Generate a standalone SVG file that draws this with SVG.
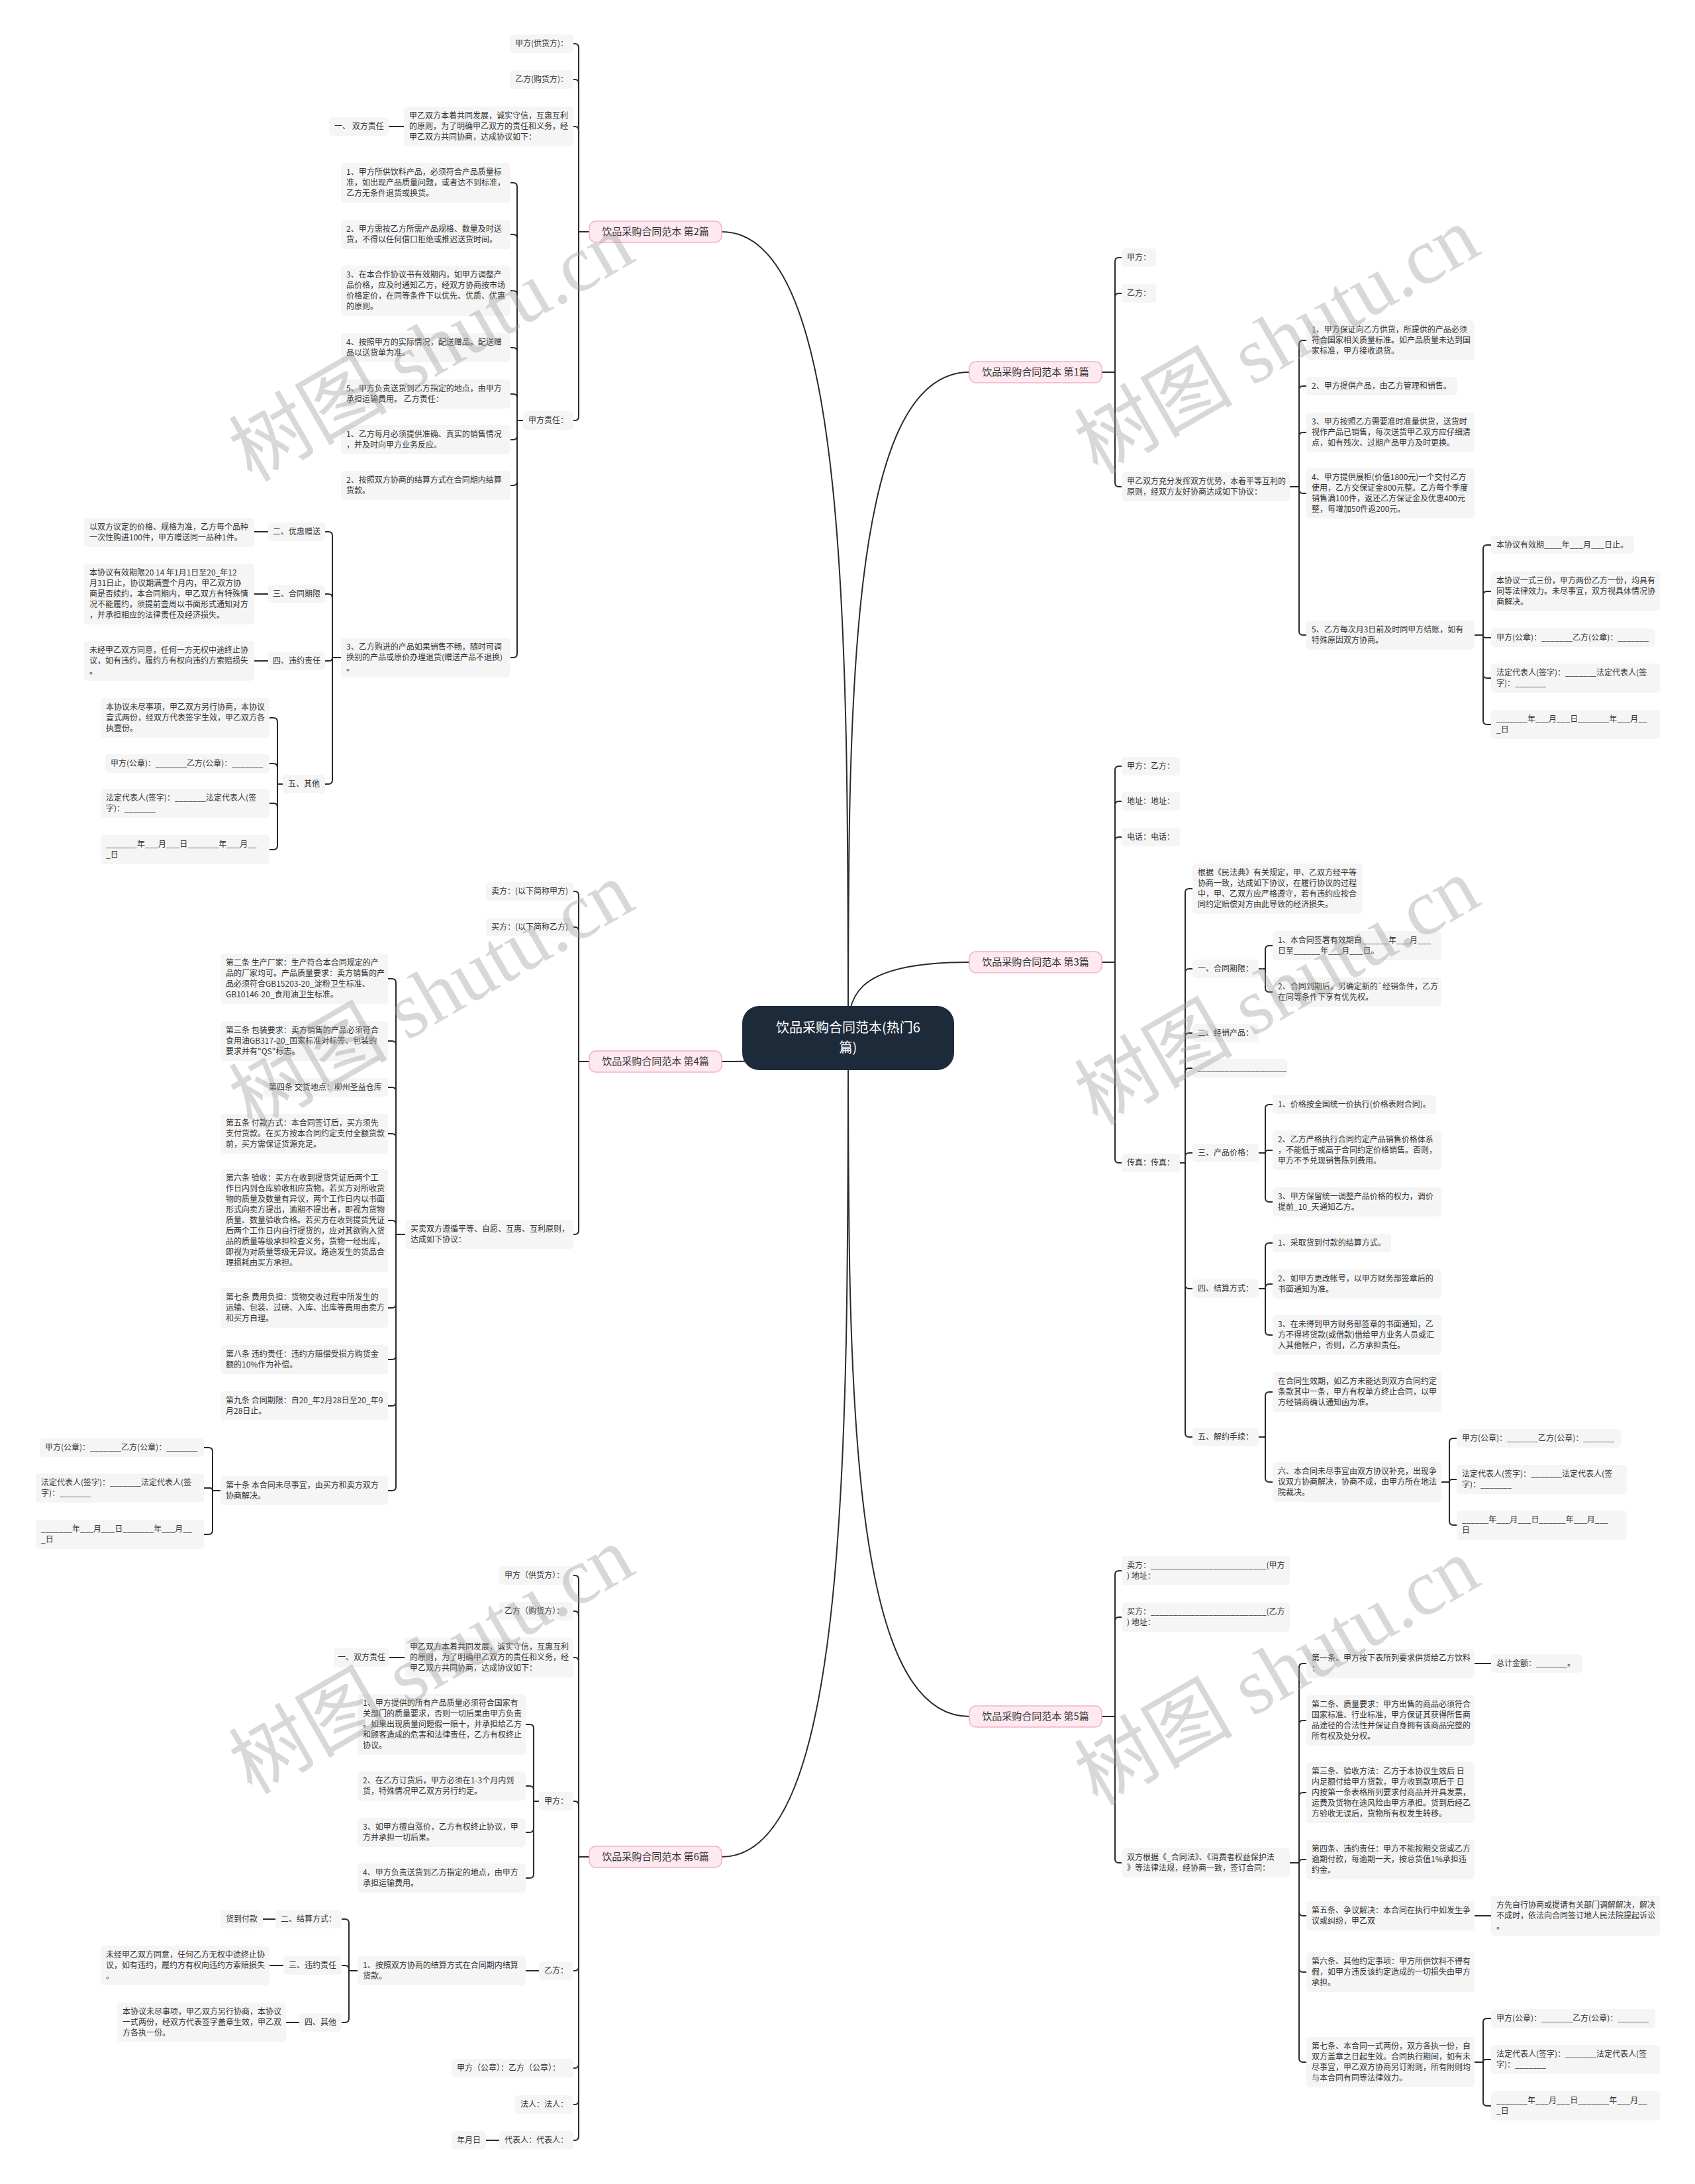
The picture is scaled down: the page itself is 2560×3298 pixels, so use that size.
<svg xmlns="http://www.w3.org/2000/svg" width="2560" height="3298" viewBox="0 0 2560 3298">
<style>
.n rect{fill:#f5f5f5}
.n text{font-family:"Noto Sans CJK SC","Noto Sans",sans-serif;font-size:12px;fill:#333}
.ln path{fill:none;stroke:#2b2b2b;stroke-width:2}
.mc path{fill:none;stroke:#2b2b2b;stroke-width:2}
.b rect{fill:#fde9ef;stroke:#f2b3c7;stroke-width:1.5}
.b text{font-family:"Noto Sans CJK SC","Noto Sans",sans-serif;font-size:15px;fill:#333;text-anchor:middle}
.wm{font-family:"Liberation Serif","Noto Sans CJK SC",serif;font-size:120px;fill:#999;fill-opacity:0.38;text-anchor:middle}
</style>
<rect x="0" y="0" width="2560" height="3298" fill="#ffffff"/>

<g id="connectors">
<g class="mc">
<path d="M1281 1567 C1281 958 1281 350 1090 350"/>
<path d="M1281 1567 C1281 1585 1281 1603 1090 1603"/>
<path d="M1281 1567 C1281 2185 1281 2804 1090 2804"/>
<path d="M1281 1567 C1281 1064 1281 562 1464 562"/>
<path d="M1281 1567 C1281 1510 1281 1453 1464 1453"/>
<path d="M1281 1567 C1281 2080 1281 2592 1464 2592"/>
</g>
<g class="ln">
<!-- branch 2 -->
<path d="M890 350 H874"/>
<path d="M874 350 V72 Q874 66 868 66 H866"/>
<path d="M874 350 V126 Q874 120 868 120 H866"/>
<path d="M874 350 V197 Q874 191 868 191 H866"/>
<path d="M874 350 V629 Q874 635 868 635 H866"/>
<path d="M610 191 H587"/>
<path d="M790 635 H781"/>
<path d="M781 635 V282 Q781 276 775 276 H771"/>
<path d="M781 635 V360 Q781 354 775 354 H771"/>
<path d="M781 635 V445 Q781 439 775 439 H771"/>
<path d="M781 635 V531 Q781 525 775 525 H771"/>
<path d="M781 635 V601 Q781 595 775 595 H771"/>
<path d="M781 635 V658 Q781 664 775 664 H771"/>
<path d="M781 635 V727 Q781 733 775 733 H771"/>
<path d="M781 635 V987 Q781 993 775 993 H771"/>
<path d="M515 993 H502"/>
<path d="M502 993 V809 Q502 803 496 803 H491"/>
<path d="M502 993 V903 Q502 897 496 897 H491"/>
<path d="M502 993 Q502 998 497 998 H491"/>
<path d="M502 993 V1178 Q502 1184 496 1184 H491"/>
<path d="M405 803 H384"/>
<path d="M405 897 H384"/>
<path d="M405 998 H384"/>
<path d="M427 1184 H419"/>
<path d="M419 1184 V1090 Q419 1084 413 1084 H407"/>
<path d="M419 1184 V1159 Q419 1153 413 1153 H407"/>
<path d="M419 1184 V1219 Q419 1213 413 1213 H407"/>
<path d="M419 1184 V1277 Q419 1283 413 1283 H407"/>
<!-- branch 4 -->
<path d="M890 1603 H874"/>
<path d="M874 1603 V1352 Q874 1346 868 1346 H866"/>
<path d="M874 1603 V1406 Q874 1400 868 1400 H866"/>
<path d="M874 1603 V1858 Q874 1864 868 1864 H866"/>
<path d="M612 1864 H598"/>
<path d="M598 1864 V1484 Q598 1478 592 1478 H586"/>
<path d="M598 1864 V1578 Q598 1572 592 1572 H586"/>
<path d="M598 1864 V1648 Q598 1642 592 1642 H586"/>
<path d="M598 1864 V1718 Q598 1712 592 1712 H586"/>
<path d="M598 1864 V1849 Q598 1843 592 1843 H586"/>
<path d="M598 1864 V1969 Q598 1975 592 1975 H586"/>
<path d="M598 1864 V2047 Q598 2053 592 2053 H586"/>
<path d="M598 1864 V2117 Q598 2123 592 2123 H586"/>
<path d="M598 1864 V2245 Q598 2251 592 2251 H586"/>
<path d="M333 2251 H321"/>
<path d="M321 2251 V2192 Q321 2186 315 2186 H308"/>
<path d="M321 2251 Q321 2247 317 2247 H308"/>
<path d="M321 2251 V2311 Q321 2317 315 2317 H308"/>
<!-- branch 6 -->
<path d="M890 2804 H874"/>
<path d="M874 2804 V2385 Q874 2379 868 2379 H866"/>
<path d="M874 2804 V2439 Q874 2433 868 2433 H866"/>
<path d="M874 2804 V2509 Q874 2503 868 2503 H866"/>
<path d="M874 2804 V2726 Q874 2720 868 2720 H866"/>
<path d="M874 2804 V2970 Q874 2976 868 2976 H866"/>
<path d="M874 2804 V3117 Q874 3123 868 3123 H866"/>
<path d="M874 2804 V3172 Q874 3178 868 3178 H866"/>
<path d="M874 2804 V3226 Q874 3232 868 3232 H866"/>
<path d="M611 2503 H588"/>
<path d="M814 2720 H806"/>
<path d="M806 2720 V2610 Q806 2604 800 2604 H794"/>
<path d="M806 2720 V2703 Q806 2697 800 2697 H794"/>
<path d="M806 2720 V2761 Q806 2767 800 2767 H794"/>
<path d="M806 2720 V2830 Q806 2836 800 2836 H794"/>
<path d="M814 2976 H794"/>
<path d="M540 2976 H527"/>
<path d="M527 2976 V2904 Q527 2898 521 2898 H516"/>
<path d="M527 2976 V2974 Q527 2968 521 2968 H516"/>
<path d="M527 2976 V3048 Q527 3054 521 3054 H516"/>
<path d="M416 2898 H397"/>
<path d="M428 2968 H407"/>
<path d="M452 3054 H432"/>
<path d="M754 3232 H734"/>
<!-- branch 1 -->
<path d="M1664 562 H1684"/>
<path d="M1684 562 V395 Q1684 389 1690 389 H1694"/>
<path d="M1684 562 V449 Q1684 443 1690 443 H1694"/>
<path d="M1684 562 V729 Q1684 735 1690 735 H1694"/>
<path d="M1948 735 H1962"/>
<path d="M1962 735 V520 Q1962 514 1968 514 H1973"/>
<path d="M1962 735 V589 Q1962 583 1968 583 H1973"/>
<path d="M1962 735 V659 Q1962 653 1968 653 H1973"/>
<path d="M1962 735 V739 Q1962 745 1968 745 H1973"/>
<path d="M1962 735 V953 Q1962 959 1968 959 H1973"/>
<path d="M2227 959 H2240"/>
<path d="M2240 959 V829 Q2240 823 2246 823 H2252"/>
<path d="M2240 959 V899 Q2240 893 2246 893 H2252"/>
<path d="M2240 959 Q2240 963 2244 963 H2252"/>
<path d="M2240 959 V1018 Q2240 1024 2246 1024 H2252"/>
<path d="M2240 959 V1088 Q2240 1094 2246 1094 H2252"/>
<!-- branch 3 -->
<path d="M1664 1453 H1684"/>
<path d="M1684 1453 V1163 Q1684 1157 1690 1157 H1694"/>
<path d="M1684 1453 V1216 Q1684 1210 1690 1210 H1694"/>
<path d="M1684 1453 V1270 Q1684 1264 1690 1264 H1694"/>
<path d="M1684 1453 V1750 Q1684 1756 1690 1756 H1694"/>
<path d="M1782 1756 H1790"/>
<path d="M1790 1756 V1348 Q1790 1342 1796 1342 H1801"/>
<path d="M1790 1756 V1469 Q1790 1463 1796 1463 H1801"/>
<path d="M1790 1756 V1566 Q1790 1560 1796 1560 H1801"/>
<path d="M1790 1756 V1619 Q1790 1613 1796 1613 H1801"/>
<path d="M1790 1756 V1747 Q1790 1741 1796 1741 H1801"/>
<path d="M1790 1756 V1940 Q1790 1946 1796 1946 H1801"/>
<path d="M1790 1756 V2164 Q1790 2170 1796 2170 H1801"/>
<path d="M1901 1463 H1911"/>
<path d="M1911 1463 V1434 Q1911 1428 1917 1428 H1922"/>
<path d="M1911 1463 V1492 Q1911 1498 1917 1498 H1922"/>
<path d="M1901 1741 H1911"/>
<path d="M1911 1741 V1674 Q1911 1668 1917 1668 H1922"/>
<path d="M1911 1741 Q1911 1737 1915 1737 H1922"/>
<path d="M1911 1741 V1809 Q1911 1815 1917 1815 H1922"/>
<path d="M1901 1946 H1911"/>
<path d="M1911 1946 V1883 Q1911 1877 1917 1877 H1922"/>
<path d="M1911 1946 V1945 Q1911 1939 1917 1939 H1922"/>
<path d="M1911 1946 V2010 Q1911 2016 1917 2016 H1922"/>
<path d="M1901 2170 H1911"/>
<path d="M1911 2170 V2108 Q1911 2102 1917 2102 H1922"/>
<path d="M1911 2170 V2232 Q1911 2238 1917 2238 H1922"/>
<path d="M2177 2238 H2189"/>
<path d="M2189 2238 V2178 Q2189 2172 2195 2172 H2200"/>
<path d="M2189 2238 Q2189 2234 2193 2234 H2200"/>
<path d="M2189 2238 V2297 Q2189 2303 2195 2303 H2200"/>
<!-- branch 5 -->
<path d="M1664 2592 H1684"/>
<path d="M1684 2592 V2378 Q1684 2372 1690 2372 H1694"/>
<path d="M1684 2592 V2448 Q1684 2442 1690 2442 H1694"/>
<path d="M1684 2592 V2807 Q1684 2813 1690 2813 H1694"/>
<path d="M1948 2813 H1962"/>
<path d="M1962 2813 V2518 Q1962 2512 1968 2512 H1973"/>
<path d="M1962 2813 V2604 Q1962 2598 1968 2598 H1973"/>
<path d="M1962 2813 V2713 Q1962 2707 1968 2707 H1973"/>
<path d="M1962 2813 Q1962 2808 1967 2808 H1973"/>
<path d="M1962 2813 V2887 Q1962 2893 1968 2893 H1973"/>
<path d="M1962 2813 V2972 Q1962 2978 1968 2978 H1973"/>
<path d="M1962 2813 V3108 Q1962 3114 1968 3114 H1973"/>
<path d="M2227 2512 H2252"/>
<path d="M2227 2893 H2252"/>
<path d="M2227 3114 H2240"/>
<path d="M2240 3114 V3054 Q2240 3048 2246 3048 H2252"/>
<path d="M2240 3114 Q2240 3110 2244 3110 H2252"/>
<path d="M2240 3114 V3174 Q2240 3180 2246 3180 H2252"/>
</g>
</g>

<g id="root"><rect x="1121" y="1519" width="320" height="97" rx="26" fill="#1d2a3a"/><text x="1281" y="1559" font-family="Noto Sans CJK SC, Noto Sans, sans-serif" font-size="20" fill="#ffffff" text-anchor="middle">饮品采购合同范本(热门6<tspan x="1281" dy="30">篇)</tspan></text></g>

<g id="b2" class="b"><rect x="890" y="334" width="200" height="32" rx="10"/><text x="990" y="355">饮品采购合同范本 第2篇</text></g>
<g id="b4" class="b"><rect x="890" y="1587" width="200" height="32" rx="10"/><text x="990" y="1608">饮品采购合同范本 第4篇</text></g>
<g id="b6" class="b"><rect x="890" y="2788" width="200" height="32" rx="10"/><text x="990" y="2809">饮品采购合同范本 第6篇</text></g>
<g id="b1" class="b"><rect x="1464" y="546" width="200" height="32" rx="10"/><text x="1564" y="567">饮品采购合同范本 第1篇</text></g>
<g id="b3" class="b"><rect x="1464" y="1437" width="200" height="32" rx="10"/><text x="1564" y="1458">饮品采购合同范本 第3篇</text></g>
<g id="b5" class="b"><rect x="1464" y="2576" width="200" height="32" rx="10"/><text x="1564" y="2597">饮品采购合同范本 第5篇</text></g>

<!-- Branch 2 nodes -->
<g id="n2-1" class="n"><rect x="770" y="52" width="96" height="28" rx="5"/><text x="778" y="70">甲方(供货方)：</text></g>
<g id="n2-2" class="n"><rect x="770" y="106" width="96" height="28" rx="5"/><text x="778" y="124">乙方(购货方)：</text></g>
<g id="n2-3" class="n"><rect x="610" y="161" width="256" height="60" rx="5"/><text x="618" y="179">甲乙双方本着共同发展，诚实守信，互惠互利<tspan x="618" dy="16">的原则，为了明确甲乙双方的责任和义务，经</tspan><tspan x="618" dy="16">甲乙双方共同协商，达成协议如下：</tspan></text></g>
<g id="n2-4" class="n"><rect x="497" y="177" width="90" height="28" rx="5"/><text x="505" y="195">一、 双方责任</text></g>
<g id="n2-5" class="n"><rect x="790" y="621" width="76" height="28" rx="5"/><text x="798" y="639">甲方责任：</text></g>
<g id="n2-e1" class="n"><rect x="515" y="246" width="256" height="60" rx="5"/><text x="523" y="264">1、甲方所供饮料产品，必须符合产品质量标<tspan x="523" dy="16">准，如出现产品质量问题，或者达不到标准，</tspan><tspan x="523" dy="16">乙方无条件退货或换货。</tspan></text></g>
<g id="n2-e2" class="n"><rect x="515" y="332" width="256" height="44" rx="5"/><text x="523" y="350">2、甲方需按乙方所需产品规格、数量及时送<tspan x="523" dy="16">货，不得以任何借口拒绝或推迟送货时间。</tspan></text></g>
<g id="n2-e3" class="n"><rect x="515" y="401" width="256" height="76" rx="5"/><text x="523" y="419">3、在本合作协议书有效期内，如甲方调整产<tspan x="523" dy="16">品价格，应及时通知乙方，经双方协商按市场</tspan><tspan x="523" dy="16">价格定价，在同等条件下以优先、优质、优惠</tspan><tspan x="523" dy="16">的原则。</tspan></text></g>
<g id="n2-e4" class="n"><rect x="515" y="503" width="256" height="44" rx="5"/><text x="523" y="521">4、按照甲方的实际情况，配送赠品。配送赠<tspan x="523" dy="16">品以送货单为准。</tspan></text></g>
<g id="n2-e5" class="n"><rect x="515" y="573" width="256" height="44" rx="5"/><text x="523" y="591">5、甲方负责送货到乙方指定的地点，由甲方<tspan x="523" dy="16">承担运输费用。 乙方责任：</tspan></text></g>
<g id="n2-e6" class="n"><rect x="515" y="642" width="256" height="44" rx="5"/><text x="523" y="660">1、乙方每月必须提供准确、真实的销售情况<tspan x="523" dy="16">，并及时向甲方业务反应。</tspan></text></g>
<g id="n2-e7" class="n"><rect x="515" y="711" width="256" height="44" rx="5"/><text x="523" y="729">2、按照双方协商的结算方式在合同期内结算<tspan x="523" dy="16">货款。</tspan></text></g>
<g id="n2-e8" class="n"><rect x="515" y="963" width="256" height="60" rx="5"/><text x="523" y="981">3、乙方购进的产品如果销售不畅，随时可调<tspan x="523" dy="16">换别的产品或原价办理退货(赠送产品不退换)</tspan><tspan x="523" dy="16">。</tspan></text></g>
<g id="n2-f1" class="n"><rect x="405" y="789" width="86" height="28" rx="5"/><text x="412" y="807">二、优惠赠送</text></g>
<g id="n2-g1" class="n"><rect x="127" y="782" width="257" height="44" rx="5"/><text x="135" y="800">以双方议定的价格、规格为准，乙方每个品种<tspan x="135" dy="16">一次性购进100件，甲方赠送同一品种1件。</tspan></text></g>
<g id="n2-f2" class="n"><rect x="405" y="883" width="86" height="28" rx="5"/><text x="412" y="901">三、合同期限</text></g>
<g id="n2-g2" class="n"><rect x="127" y="851" width="257" height="92" rx="5"/><text x="135" y="869">本协议有效期限20 14 年1月1日至20_年12<tspan x="135" dy="16">月31日止，协议期满壹个月内，甲乙双方协</tspan><tspan x="135" dy="16">商是否续约，本合同期内，甲乙双方有特殊情</tspan><tspan x="135" dy="16">况不能履约，须提前壹周以书面形式通知对方</tspan><tspan x="135" dy="16">，并承担相应的法律责任及经济损失。</tspan></text></g>
<g id="n2-f3" class="n"><rect x="405" y="984" width="86" height="28" rx="5"/><text x="412" y="1002">四、违约责任</text></g>
<g id="n2-g3" class="n"><rect x="127" y="968" width="257" height="60" rx="5"/><text x="135" y="986">未经甲乙双方同意，任何一方无权中途终止协<tspan x="135" dy="16">议，如有违约，履约方有权向违约方索赔损失</tspan><tspan x="135" dy="16">。</tspan></text></g>
<g id="n2-f4" class="n"><rect x="427" y="1170" width="64" height="28" rx="5"/><text x="435" y="1188">五、其他</text></g>
<g id="n2-h1" class="n"><rect x="152" y="1054" width="255" height="60" rx="5"/><text x="160" y="1072">本协议未尽事项，甲乙双方另行协商，本协议<tspan x="160" dy="16">壹式两份，经双方代表签字生效，甲乙双方各</tspan><tspan x="160" dy="16">执壹份。</tspan></text></g>
<g id="n2-h2" class="n"><rect x="159" y="1139" width="248" height="28" rx="5"/><text x="167" y="1157">甲方(公章)：_______乙方(公章)：_______</text></g>
<g id="n2-h3" class="n"><rect x="152" y="1191" width="255" height="44" rx="5"/><text x="160" y="1209">法定代表人(签字)：_______法定代表人(签<tspan x="160" dy="16">字)：_______</tspan></text></g>
<g id="n2-h4" class="n"><rect x="152" y="1261" width="255" height="44" rx="5"/><text x="160" y="1279">_______年___月___日_______年___月__<tspan x="160" dy="16">_日</tspan></text></g>

<!-- Branch 4 nodes -->
<g id="n4-1" class="n"><rect x="734" y="1332" width="132" height="28" rx="5"/><text x="742" y="1350">卖方：(以下简称甲方)</text></g>
<g id="n4-2" class="n"><rect x="734" y="1386" width="132" height="28" rx="5"/><text x="742" y="1404">买方：(以下简称乙方)</text></g>
<g id="n4-3" class="n"><rect x="612" y="1842" width="254" height="44" rx="5"/><text x="620" y="1860">买卖双方遵循平等、自愿、互惠、互利原则，<tspan x="620" dy="16">达成如下协议：</tspan></text></g>
<g id="n4-a2" class="n"><rect x="333" y="1440" width="253" height="76" rx="5"/><text x="341" y="1458">第二条 生产厂家：生产符合本合同规定的产<tspan x="341" dy="16">品的厂家均可。产品质量要求：卖方销售的产</tspan><tspan x="341" dy="16">品必须符合GB15203-20_淀粉卫生标准、</tspan><tspan x="341" dy="16">GB10146-20_食用油卫生标准。</tspan></text></g>
<g id="n4-a3" class="n"><rect x="333" y="1542" width="253" height="60" rx="5"/><text x="341" y="1560">第三条 包装要求：卖方销售的产品必须符合<tspan x="341" dy="16">食用油GB317-20_国家标准对标签、包装的</tspan><tspan x="341" dy="16">要求并有"QS"标志。</tspan></text></g>
<g id="n4-a4" class="n"><rect x="398" y="1628" width="188" height="28" rx="5"/><text x="406" y="1646">第四条 交货地点：柳州圣益仓库</text></g>
<g id="n4-a5" class="n"><rect x="333" y="1682" width="253" height="60" rx="5"/><text x="341" y="1700">第五条 付款方式：本合同签订后，买方须先<tspan x="341" dy="16">支付货款。在买方按本合同约定支付全额货款</tspan><tspan x="341" dy="16">前，买方需保证货源充足。</tspan></text></g>
<g id="n4-a6" class="n"><rect x="333" y="1765" width="253" height="156" rx="5"/><text x="341" y="1783">第六条 验收：买方在收到提货凭证后两个工<tspan x="341" dy="16">作日内到仓库验收相应货物。若买方对所收货</tspan><tspan x="341" dy="16">物的质量及数量有异议，两个工作日内以书面</tspan><tspan x="341" dy="16">形式向卖方提出，逾期不提出者，即视为货物</tspan><tspan x="341" dy="16">质量、数量验收合格。若买方在收到提货凭证</tspan><tspan x="341" dy="16">后两个工作日内自行提货的，应对其欲购入货</tspan><tspan x="341" dy="16">品的质量等级承担检查义务，货物一经出库，</tspan><tspan x="341" dy="16">即视为对质量等级无异议。路途发生的货品合</tspan><tspan x="341" dy="16">理损耗由买方承担。</tspan></text></g>
<g id="n4-a7" class="n"><rect x="333" y="1945" width="253" height="60" rx="5"/><text x="341" y="1963">第七条 费用负担：货物交收过程中所发生的<tspan x="341" dy="16">运输、包装、过磅、入库、出库等费用由卖方</tspan><tspan x="341" dy="16">和买方自理。</tspan></text></g>
<g id="n4-a8" class="n"><rect x="333" y="2031" width="253" height="44" rx="5"/><text x="341" y="2049">第八条 违约责任：违约方赔偿受损方购货金<tspan x="341" dy="16">额的10%作为补偿。</tspan></text></g>
<g id="n4-a9" class="n"><rect x="333" y="2101" width="253" height="44" rx="5"/><text x="341" y="2119">第九条 合同期限：自20_年2月28日至20_年9<tspan x="341" dy="16">月28日止。</tspan></text></g>
<g id="n4-a10" class="n"><rect x="333" y="2229" width="253" height="44" rx="5"/><text x="341" y="2247">第十条 本合同未尽事宜，由买方和卖方双方<tspan x="341" dy="16">协商解决。</tspan></text></g>
<g id="n4-s1" class="n"><rect x="60" y="2172" width="248" height="28" rx="5"/><text x="68" y="2190">甲方(公章)：_______乙方(公章)：_______</text></g>
<g id="n4-s2" class="n"><rect x="54" y="2225" width="254" height="44" rx="5"/><text x="62" y="2243">法定代表人(签字)：_______法定代表人(签<tspan x="62" dy="16">字)：_______</tspan></text></g>
<g id="n4-s3" class="n"><rect x="54" y="2295" width="254" height="44" rx="5"/><text x="62" y="2313">_______年___月___日_______年___月__<tspan x="62" dy="16">_日</tspan></text></g>

<!-- Branch 6 nodes -->
<g id="n6-1" class="n"><rect x="754" y="2365" width="112" height="28" rx="5"/><text x="762" y="2383">甲方（供货方）：</text></g>
<g id="n6-2" class="n"><rect x="754" y="2419" width="112" height="28" rx="5"/><text x="762" y="2437">乙方（购货方）：</text></g>
<g id="n6-3" class="n"><rect x="611" y="2473" width="255" height="60" rx="5"/><text x="619" y="2491">甲乙双方本着共同发展，诚实守信，互惠互利<tspan x="619" dy="16">的原则，为了明确甲乙双方的责任和义务，经</tspan><tspan x="619" dy="16">甲乙双方共同协商，达成协议如下：</tspan></text></g>
<g id="n6-4" class="n"><rect x="504" y="2489" width="84" height="28" rx="5"/><text x="510" y="2507">一、双方责任</text></g>
<g id="n6-5" class="n"><rect x="814" y="2706" width="52" height="28" rx="5"/><text x="822" y="2724">甲方：</text></g>
<g id="n6-j1" class="n"><rect x="540" y="2558" width="254" height="92" rx="5"/><text x="548" y="2576">1、甲方提供的所有产品质量必须符合国家有<tspan x="548" dy="16">关部门的质量要求，否则一切后果由甲方负责</tspan><tspan x="548" dy="16">。如果出现质量问题假一赔十，并承担给乙方</tspan><tspan x="548" dy="16">和顾客造成的危害和法律责任，乙方有权终止</tspan><tspan x="548" dy="16">协议。</tspan></text></g>
<g id="n6-j2" class="n"><rect x="540" y="2675" width="254" height="44" rx="5"/><text x="548" y="2693">2、在乙方订货后，甲方必须在1-3个月内到<tspan x="548" dy="16">货，特殊情况甲乙双方另行约定。</tspan></text></g>
<g id="n6-j3" class="n"><rect x="540" y="2745" width="254" height="44" rx="5"/><text x="548" y="2763">3、如甲方擅自涨价，乙方有权终止协议，甲<tspan x="548" dy="16">方并承担一切后果。</tspan></text></g>
<g id="n6-j4" class="n"><rect x="540" y="2814" width="254" height="44" rx="5"/><text x="548" y="2832">4、甲方负责送货到乙方指定的地点，由甲方<tspan x="548" dy="16">承担运输费用。</tspan></text></g>
<g id="n6-6" class="n"><rect x="814" y="2962" width="52" height="28" rx="5"/><text x="822" y="2980">乙方：</text></g>
<g id="n6-k1" class="n"><rect x="540" y="2954" width="254" height="44" rx="5"/><text x="548" y="2972">1、按照双方协商的结算方式在合同期内结算<tspan x="548" dy="16">货款。</tspan></text></g>
<g id="n6-k2" class="n"><rect x="416" y="2884" width="100" height="28" rx="5"/><text x="424" y="2902">二、结算方式：</text></g>
<g id="n6-k2a" class="n"><rect x="333" y="2884" width="64" height="28" rx="5"/><text x="341" y="2902">货到付款</text></g>
<g id="n6-k3" class="n"><rect x="428" y="2954" width="88" height="28" rx="5"/><text x="436" y="2972">三、违约责任</text></g>
<g id="n6-k3a" class="n"><rect x="152" y="2938" width="255" height="60" rx="5"/><text x="160" y="2956">未经甲乙双方同意，任何乙方无权中途终止协<tspan x="160" dy="16">议，如有违约，履约方有权向违约方索赔损失</tspan><tspan x="160" dy="16">。</tspan></text></g>
<g id="n6-k4" class="n"><rect x="452" y="3040" width="64" height="28" rx="5"/><text x="460" y="3058">四、其他</text></g>
<g id="n6-k4a" class="n"><rect x="177" y="3024" width="255" height="60" rx="5"/><text x="185" y="3042">本协议未尽事项，甲乙双方另行协商，本协议<tspan x="185" dy="16">一式两份，经双方代表签字盖章生效，甲乙双</tspan><tspan x="185" dy="16">方各执一份。</tspan></text></g>
<g id="n6-7" class="n"><rect x="682" y="3109" width="184" height="28" rx="5"/><text x="690" y="3127">甲方（公章）：乙方（公章）：</text></g>
<g id="n6-8" class="n"><rect x="778" y="3164" width="88" height="28" rx="5"/><text x="786" y="3182">法人：法人：</text></g>
<g id="n6-9" class="n"><rect x="754" y="3218" width="112" height="28" rx="5"/><text x="762" y="3236">代表人：代表人：</text></g>
<g id="n6-9a" class="n"><rect x="682" y="3218" width="52" height="28" rx="5"/><text x="690" y="3236">年月日</text></g>

<!-- Branch 1 nodes -->
<g id="n1-1" class="n"><rect x="1694" y="375" width="52" height="28" rx="5"/><text x="1702" y="393">甲方：</text></g>
<g id="n1-2" class="n"><rect x="1694" y="429" width="52" height="28" rx="5"/><text x="1702" y="447">乙方：</text></g>
<g id="n1-3" class="n"><rect x="1694" y="713" width="254" height="44" rx="5"/><text x="1702" y="731">甲乙双方充分发挥双方优势，本着平等互利的<tspan x="1702" dy="16">原则，经双方友好协商达成如下协议：</tspan></text></g>
<g id="n1-i1" class="n"><rect x="1973" y="484" width="254" height="60" rx="5"/><text x="1981" y="502">1、甲方保证向乙方供货，所提供的产品必须<tspan x="1981" dy="16">符合国家相关质量标准。如产品质量未达到国</tspan><tspan x="1981" dy="16">家标准，甲方接收退货。</tspan></text></g>
<g id="n1-i2" class="n"><rect x="1973" y="569" width="228" height="28" rx="5"/><text x="1981" y="587">2、甲方提供产品，由乙方管理和销售。</text></g>
<g id="n1-i3" class="n"><rect x="1973" y="623" width="254" height="60" rx="5"/><text x="1981" y="641">3、甲方按照乙方需要准时准量供货，送货时<tspan x="1981" dy="16">视作产品已销售，每次送货甲乙双方应仔细清</tspan><tspan x="1981" dy="16">点，如有残次、过期产品甲方及时更换。</tspan></text></g>
<g id="n1-i4" class="n"><rect x="1973" y="707" width="254" height="76" rx="5"/><text x="1981" y="725">4、甲方提供展柜(价值1800元)一个交付乙方<tspan x="1981" dy="16">使用，乙方交保证金800元整。乙方每个季度</tspan><tspan x="1981" dy="16">销售满100件，返还乙方保证金及优惠400元</tspan><tspan x="1981" dy="16">整，每增加50件返200元。</tspan></text></g>
<g id="n1-i5" class="n"><rect x="1973" y="937" width="254" height="44" rx="5"/><text x="1981" y="955">5、乙方每次月3日前及时同甲方结账，如有<tspan x="1981" dy="16">特殊原因双方协商。</tspan></text></g>
<g id="n1-s1" class="n"><rect x="2252" y="809" width="216" height="28" rx="5"/><text x="2260" y="827">本协议有效期____年___月___日止。</text></g>
<g id="n1-s2" class="n"><rect x="2252" y="863" width="255" height="60" rx="5"/><text x="2260" y="881">本协议一式三份，甲方两份乙方一份，均具有<tspan x="2260" dy="16">同等法律效力。未尽事宜，双方视具体情况协</tspan><tspan x="2260" dy="16">商解决。</tspan></text></g>
<g id="n1-s3" class="n"><rect x="2252" y="949" width="248" height="28" rx="5"/><text x="2260" y="967">甲方(公章)：_______乙方(公章)：_______</text></g>
<g id="n1-s4" class="n"><rect x="2252" y="1002" width="255" height="44" rx="5"/><text x="2260" y="1020">法定代表人(签字)：_______法定代表人(签<tspan x="2260" dy="16">字)：_______</tspan></text></g>
<g id="n1-s5" class="n"><rect x="2252" y="1072" width="255" height="44" rx="5"/><text x="2260" y="1090">_______年___月___日_______年___月__<tspan x="2260" dy="16">_日</tspan></text></g>

<!-- Branch 3 nodes -->
<g id="n3-1" class="n"><rect x="1694" y="1143" width="88" height="28" rx="5"/><text x="1702" y="1161">甲方：乙方：</text></g>
<g id="n3-2" class="n"><rect x="1694" y="1196" width="88" height="28" rx="5"/><text x="1702" y="1214">地址：地址：</text></g>
<g id="n3-3" class="n"><rect x="1694" y="1250" width="88" height="28" rx="5"/><text x="1702" y="1268">电话：电话：</text></g>
<g id="n3-4" class="n"><rect x="1694" y="1742" width="88" height="28" rx="5"/><text x="1702" y="1760">传真：传真：</text></g>
<g id="n3-p0" class="n"><rect x="1801" y="1304" width="257" height="76" rx="5"/><text x="1809" y="1322">根据《民法典》有关规定，甲、乙双方经平等<tspan x="1809" dy="16">协商一致，达成如下协议，在履行协议的过程</tspan><tspan x="1809" dy="16">中，甲、乙双方应严格遵守，若有违约应按合</tspan><tspan x="1809" dy="16">同约定赔偿对方由此导致的经济损失。</tspan></text></g>
<g id="n3-p1" class="n"><rect x="1801" y="1449" width="100" height="28" rx="5"/><text x="1809" y="1467">一、合同期限：</text></g>
<g id="n3-p1a" class="n"><rect x="1922" y="1406" width="255" height="44" rx="5"/><text x="1930" y="1424">1、本合同签署有效期自______年___月___<tspan x="1930" dy="16">日至______年___月___日。</tspan></text></g>
<g id="n3-p1b" class="n"><rect x="1922" y="1476" width="255" height="44" rx="5"/><text x="1930" y="1494">2、合同到期后，另确定新的`经销条件，乙方<tspan x="1930" dy="16">在同等条件下享有优先权。</tspan></text></g>
<g id="n3-p2" class="n"><rect x="1801" y="1546" width="100" height="28" rx="5"/><text x="1809" y="1564">二、经销产品：</text></g>
<g id="n3-p2b" class="n"><rect x="1801" y="1599" width="143" height="28" rx="5"/><text x="1809" y="1617">____________________</text></g>
<g id="n3-p3" class="n"><rect x="1801" y="1727" width="100" height="28" rx="5"/><text x="1809" y="1745">三、产品价格：</text></g>
<g id="n3-p3a" class="n"><rect x="1922" y="1654" width="247" height="28" rx="5"/><text x="1930" y="1672">1、价格按全国统一价执行(价格表附合同)。</text></g>
<g id="n3-p3b" class="n"><rect x="1922" y="1707" width="255" height="60" rx="5"/><text x="1930" y="1725">2、乙方严格执行合同约定产品销售价格体系<tspan x="1930" dy="16">，不能低于或高于合同约定价格销售。否则，</tspan><tspan x="1930" dy="16">甲方不予兑现销售陈列费用。</tspan></text></g>
<g id="n3-p3c" class="n"><rect x="1922" y="1793" width="255" height="44" rx="5"/><text x="1930" y="1811">3、甲方保留统一调整产品价格的权力，调价<tspan x="1930" dy="16">提前_10_天通知乙方。</tspan></text></g>
<g id="n3-p4" class="n"><rect x="1801" y="1932" width="100" height="28" rx="5"/><text x="1809" y="1950">四、结算方式：</text></g>
<g id="n3-p4a" class="n"><rect x="1922" y="1863" width="179" height="28" rx="5"/><text x="1930" y="1881">1、采取货到付款的结算方式。</text></g>
<g id="n3-p4b" class="n"><rect x="1922" y="1917" width="255" height="44" rx="5"/><text x="1930" y="1935">2、如甲方更改帐号，以甲方财务部签章后的<tspan x="1930" dy="16">书面通知为准。</tspan></text></g>
<g id="n3-p4c" class="n"><rect x="1922" y="1986" width="255" height="60" rx="5"/><text x="1930" y="2004">3、在未得到甲方财务部签章的书面通知，乙<tspan x="1930" dy="16">方不得将货款(或借款)借给甲方业务人员或汇</tspan><tspan x="1930" dy="16">入其他帐户，否则，乙方承担责任。</tspan></text></g>
<g id="n3-p5" class="n"><rect x="1801" y="2156" width="100" height="28" rx="5"/><text x="1809" y="2174">五、解约手续：</text></g>
<g id="n3-p5a" class="n"><rect x="1922" y="2072" width="255" height="60" rx="5"/><text x="1930" y="2090">在合同生效期，如乙方未能达到双方合同约定<tspan x="1930" dy="16">条款其中一条，甲方有权单方终止合同，以甲</tspan><tspan x="1930" dy="16">方经销商确认通知函为准。</tspan></text></g>
<g id="n3-p5b" class="n"><rect x="1922" y="2208" width="255" height="60" rx="5"/><text x="1930" y="2226">六、本合同未尽事宜由双方协议补充，出现争<tspan x="1930" dy="16">议双方协商解决，协商不成，由甲方所在地法</tspan><tspan x="1930" dy="16">院裁决。</tspan></text></g>
<g id="n3-q1" class="n"><rect x="2200" y="2158" width="248" height="28" rx="5"/><text x="2208" y="2176">甲方(公章)：_______乙方(公章)：_______</text></g>
<g id="n3-q2" class="n"><rect x="2200" y="2212" width="257" height="44" rx="5"/><text x="2208" y="2230">法定代表人(签字)：_______法定代表人(签<tspan x="2208" dy="16">字)：_______</tspan></text></g>
<g id="n3-q3" class="n"><rect x="2200" y="2281" width="257" height="44" rx="5"/><text x="2208" y="2299">______年___月___日______年___月___<tspan x="2208" dy="16">日</tspan></text></g>

<!-- Branch 5 nodes -->
<g id="n5-1" class="n"><rect x="1694" y="2350" width="254" height="44" rx="5"/><text x="1702" y="2368">卖方：__________________________(甲方<tspan x="1702" dy="16">) 地址：</tspan></text></g>
<g id="n5-2" class="n"><rect x="1694" y="2420" width="254" height="44" rx="5"/><text x="1702" y="2438">买方：__________________________(乙方<tspan x="1702" dy="16">) 地址：</tspan></text></g>
<g id="n5-3" class="n"><rect x="1694" y="2791" width="254" height="44" rx="5"/><text x="1702" y="2809">双方根据《_合同法》、《消费者权益保护法<tspan x="1702" dy="16">》等法律法规，经协商一致，签订合同：</tspan></text></g>
<g id="n5-c1" class="n"><rect x="1973" y="2490" width="254" height="44" rx="5"/><text x="1981" y="2508">第一条、甲方按下表所列要求供货给乙方饮料<tspan x="1981" dy="16">：</tspan></text></g>
<g id="n5-c1a" class="n"><rect x="2252" y="2498" width="138" height="28" rx="5"/><text x="2260" y="2516">总计金额：_______。</text></g>
<g id="n5-c2" class="n"><rect x="1973" y="2560" width="254" height="76" rx="5"/><text x="1981" y="2578">第二条、质量要求：甲方出售的商品必须符合<tspan x="1981" dy="16">国家标准、行业标准，甲方保证其获得所售商</tspan><tspan x="1981" dy="16">品途径的合法性并保证自身拥有该商品完整的</tspan><tspan x="1981" dy="16">所有权及处分权。</tspan></text></g>
<g id="n5-c3" class="n"><rect x="1973" y="2661" width="254" height="92" rx="5"/><text x="1981" y="2679">第三条、验收方法：乙方于本协议生效后 日<tspan x="1981" dy="16">内足额付给甲方货款，甲方收到款项后于 日</tspan><tspan x="1981" dy="16">内按第一条表格所列要求付商品并开具发票，</tspan><tspan x="1981" dy="16">运费及货物在途风险由甲方承担。货到后经乙</tspan><tspan x="1981" dy="16">方验收无误后，货物所有权发生转移。</tspan></text></g>
<g id="n5-c4" class="n"><rect x="1973" y="2778" width="254" height="60" rx="5"/><text x="1981" y="2796">第四条、违约责任：甲方不能按期交货或乙方<tspan x="1981" dy="16">逾期付款，每逾期一天，按总货值1%承担违</tspan><tspan x="1981" dy="16">约金。</tspan></text></g>
<g id="n5-c5" class="n"><rect x="1973" y="2871" width="254" height="44" rx="5"/><text x="1981" y="2889">第五条、争议解决：本合同在执行中如发生争<tspan x="1981" dy="16">议或纠纷，甲乙双</tspan></text></g>
<g id="n5-c5a" class="n"><rect x="2252" y="2863" width="255" height="60" rx="5"/><text x="2260" y="2881">方先自行协商或提请有关部门调解解决，解决<tspan x="2260" dy="16">不成时，依法向合同签订地人民法院提起诉讼</tspan><tspan x="2260" dy="16">。</tspan></text></g>
<g id="n5-c6" class="n"><rect x="1973" y="2948" width="254" height="60" rx="5"/><text x="1981" y="2966">第六条、其他约定事项：甲方所供饮料不得有<tspan x="1981" dy="16">假，如甲方违反该约定造成的一切损失由甲方</tspan><tspan x="1981" dy="16">承担。</tspan></text></g>
<g id="n5-c7" class="n"><rect x="1973" y="3076" width="254" height="76" rx="5"/><text x="1981" y="3094">第七条、本合同一式两份，双方各执一份，自<tspan x="1981" dy="16">双方盖章之日起生效。合同执行期间，如有未</tspan><tspan x="1981" dy="16">尽事宜，甲乙双方协商另订附则，所有附则均</tspan><tspan x="1981" dy="16">与本合同有同等法律效力。</tspan></text></g>
<g id="n5-d1" class="n"><rect x="2252" y="3034" width="248" height="28" rx="5"/><text x="2260" y="3052">甲方(公章)：_______乙方(公章)：_______</text></g>
<g id="n5-d2" class="n"><rect x="2252" y="3088" width="255" height="44" rx="5"/><text x="2260" y="3106">法定代表人(签字)：_______法定代表人(签<tspan x="2260" dy="16">字)：_______</tspan></text></g>
<g id="n5-d3" class="n"><rect x="2252" y="3158" width="255" height="44" rx="5"/><text x="2260" y="3176">_______年___月___日_______年___月__<tspan x="2260" dy="16">_日</tspan></text></g>

<g id="watermarks">
<text class="wm" x="652" y="566" transform="rotate(-30 652 526)">树图 shutu.cn</text>
<text class="wm" x="1929" y="555" transform="rotate(-30 1929 515)">树图 shutu.cn</text>
<text class="wm" x="652" y="1544" transform="rotate(-30 652 1504)">树图 shutu.cn</text>
<text class="wm" x="1929" y="1538" transform="rotate(-30 1929 1498)">树图 shutu.cn</text>
<text class="wm" x="652" y="2548" transform="rotate(-30 652 2508)">树图 shutu.cn</text>
<text class="wm" x="1929" y="2565" transform="rotate(-30 1929 2525)">树图 shutu.cn</text>
</g>
</svg>
